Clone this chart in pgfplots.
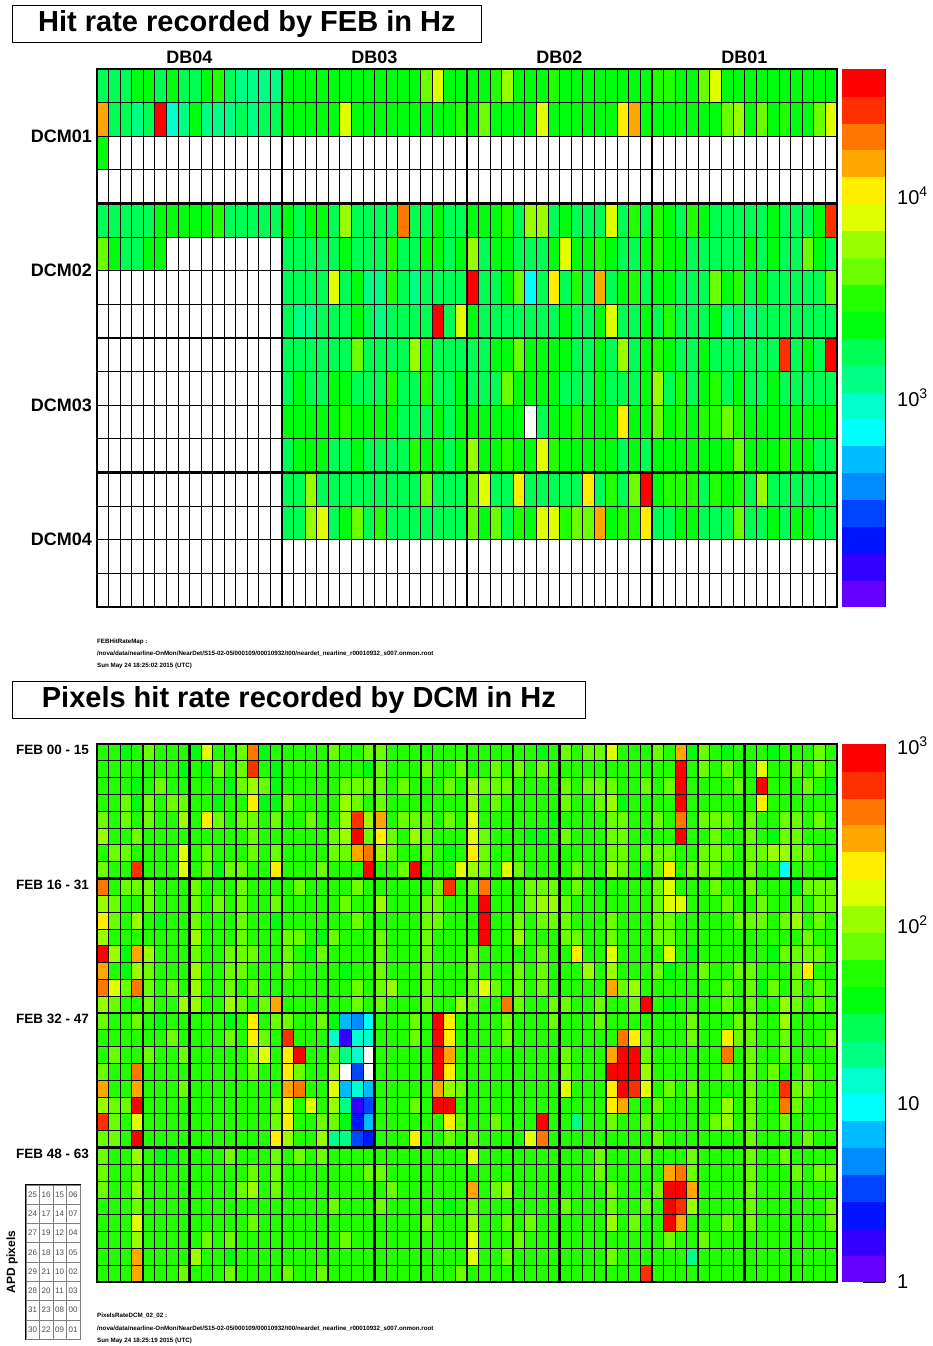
\documentclass[border=0pt]{standalone}
\usepackage{fontspec}
\setmainfont{Liberation Sans}
\usepackage{pgfplots}
\pgfplotsset{compat=1.18}
\usetikzlibrary{matrix}
\pgfplotsset{
  colormap={rootpal}{rgb255=(255,255,255) rgb255=(99,0,255) rgb255=(51,0,255) rgb255=(0,20,255) rgb255=(0,68,255) rgb255=(0,139,255) rgb255=(0,187,255) rgb255=(0,255,252) rgb255=(0,255,204) rgb255=(0,255,133) rgb255=(0,255,85) rgb255=(0,255,14) rgb255=(34,255,0) rgb255=(105,255,0) rgb255=(153,255,0) rgb255=(224,255,0) rgb255=(255,238,0) rgb255=(255,167,0) rgb255=(255,119,0) rgb255=(255,48,0) rgb255=(255,0,0)},
  heatmap/.style={
    scale only axis, anchor=center, clip=false, axis on top,
    colormap name=rootpal, colormap access=direct,
    xticklabels={}, yticklabels={},
    major tick length=0pt, minor tick length=0pt,
    grid=both,
    minor grid style={black, line width=0.8pt},
    major grid style={black, line width=2.4pt},
    axis line style={black, line width=2.4pt},
    y dir=reverse,
  },
  cbar/.style={
    scale only axis, anchor=center, width=43pt, height=538pt,
    colormap name=rootpal, colormap access=direct,
    xmin=0, xmax=1, axis x line=none, axis y line*=right,
    tick align=inside, major tick length=22pt, minor tick length=11pt,
    tick style={black, line width=0.8pt}, axis line style={black, line width=0.8pt},
    yticklabel style={font=\fontsize{20}{20}\selectfont, inner sep=0pt, xshift=12pt},
  },
}
\begin{document}
\begin{tikzpicture}
\fill[white] (0,0) rectangle (932pt,1346pt);
\path[use as bounding box] (0,0) rectangle (932pt,1346pt);

% ---------------- top chart (each cell value sits on its upper-left corner; last column/row unused) ----------------
\begin{axis}[heatmap, at={(467pt,1008pt)}, width=740pt, height=538pt,
  xmin=-0.5, xmax=63.5, ymin=-0.5, ymax=15.5,
  xtick={15.5,31.5,47.5}, ytick={3.5,7.5,11.5},
  minor xtick={0.5,1.5,...,62.5}, minor ytick={0.5,1.5,...,14.5}]
\addplot[surf, shader=flat corner, mesh/cols=65,
  point meta={max(0,min(20,floor((ln(max(\thisrowno{0},0.01))/2.302585-1.965)/0.1332)+1))}]
 table[header=false, row sep=\\, x expr={mod(\coordindex+0.5,65)-1}, y expr={floor((\coordindex+0.5)/65)-0.5}] {
1700\\1700\\1700\\2310\\2310\\1700\\2310\\1700\\1700\\2310\\3140\\1700\\1250\\1250\\1250\\1250\\
2310\\2310\\2310\\2310\\2310\\2310\\2310\\2310\\2310\\2310\\2310\\2310\\4270\\7880\\2310\\2310\\
2310\\2310\\3140\\5800\\2310\\2310\\2310\\3140\\2310\\2310\\2310\\2310\\2310\\2310\\2310\\2310\\
3140\\3140\\2310\\2310\\4270\\7880\\2310\\2310\\2310\\2310\\2310\\2310\\2310\\2310\\2310\\2310\\0\\
14500\\1700\\1700\\1250\\1700\\36500\\920\\1250\\2310\\1250\\1250\\1250\\1700\\1250\\1700\\1700\\
2310\\2310\\2310\\2310\\2310\\7880\\2310\\2310\\2310\\2310\\2310\\2310\\2310\\2310\\2310\\3140\\
2310\\4270\\2310\\2310\\2310\\2310\\7880\\2310\\2310\\2310\\2310\\2310\\2310\\10700\\14500\\2310\\
2310\\2310\\2310\\2310\\2310\\2310\\4270\\5800\\2310\\4270\\2310\\3140\\2310\\2310\\4270\\7880\\0\\
2310\\0\\0\\0\\0\\0\\0\\0\\0\\0\\0\\0\\0\\0\\0\\0\\
0\\0\\0\\0\\0\\0\\0\\0\\0\\0\\0\\0\\0\\0\\0\\0\\
0\\0\\0\\0\\0\\0\\0\\0\\0\\0\\0\\0\\0\\0\\0\\0\\
0\\0\\0\\0\\0\\0\\0\\0\\0\\0\\0\\0\\0\\0\\0\\0\\0\\
0\\0\\0\\0\\0\\0\\0\\0\\0\\0\\0\\0\\0\\0\\0\\0\\
0\\0\\0\\0\\0\\0\\0\\0\\0\\0\\0\\0\\0\\0\\0\\0\\
0\\0\\0\\0\\0\\0\\0\\0\\0\\0\\0\\0\\0\\0\\0\\0\\
0\\0\\0\\0\\0\\0\\0\\0\\0\\0\\0\\0\\0\\0\\0\\0\\0\\
1700\\1700\\1700\\1700\\1700\\2310\\2310\\2310\\2310\\2310\\3140\\1700\\1700\\1700\\1700\\1700\\
2310\\1700\\2310\\2310\\1700\\5800\\1700\\1700\\1700\\1700\\19800\\1700\\1700\\2310\\1700\\1700\\
2310\\2310\\2310\\3140\\1700\\5800\\5800\\1700\\2310\\1700\\1700\\1700\\7880\\1700\\3140\\1700\\
3140\\2310\\1700\\3140\\2310\\1700\\1700\\1700\\1700\\1700\\2310\\1700\\1700\\1700\\2310\\26900\\0\\
4270\\2310\\1700\\1700\\2310\\2310\\0\\0\\0\\0\\0\\0\\0\\0\\0\\0\\
1700\\1700\\1700\\1700\\1700\\2310\\1700\\1700\\1700\\3140\\1700\\1700\\2310\\2310\\1700\\2310\\
5800\\1700\\2310\\2310\\1700\\1700\\1700\\2310\\7880\\2310\\2310\\3140\\2310\\1700\\1700\\2310\\
3140\\2310\\2310\\1700\\1700\\1700\\1700\\1700\\2310\\1700\\2310\\1700\\1700\\4270\\2310\\1700\\0\\
0\\0\\0\\0\\0\\0\\0\\0\\0\\0\\0\\0\\0\\0\\0\\0\\
1700\\1700\\1700\\1700\\7880\\1700\\2310\\1250\\1250\\3140\\1700\\1250\\1700\\1700\\1700\\1700\\
36500\\1700\\1700\\2310\\4270\\677\\1700\\10700\\1700\\3140\\1700\\14500\\1700\\2310\\3140\\1700\\
2310\\2310\\1700\\1700\\1700\\4270\\2310\\3140\\1700\\2310\\1700\\1700\\1700\\1700\\1700\\4270\\0\\
0\\0\\0\\0\\0\\0\\0\\0\\0\\0\\0\\0\\0\\0\\0\\0\\
1700\\1250\\1250\\1700\\1700\\1700\\2310\\1700\\1250\\1700\\1700\\1700\\1700\\36500\\1700\\7880\\
2310\\1700\\1700\\1700\\1700\\1700\\1700\\1700\\2310\\1700\\1700\\2310\\7880\\1700\\1700\\2310\\
1700\\3140\\1700\\1700\\1700\\2310\\1250\\1700\\1250\\1700\\1700\\1700\\1700\\1700\\1700\\1700\\0\\
0\\0\\0\\0\\0\\0\\0\\0\\0\\0\\0\\0\\0\\0\\0\\0\\
1700\\1700\\1700\\1700\\1700\\1700\\4270\\1700\\1700\\1700\\1700\\5800\\3140\\1700\\1700\\1700\\
1700\\1700\\2310\\2310\\4270\\2310\\2310\\2310\\2310\\1700\\1700\\2310\\1700\\5800\\1700\\2310\\
3140\\2310\\1700\\1700\\2310\\1700\\1700\\1700\\1700\\1700\\1700\\26900\\1700\\2310\\1700\\36500\\0\\
0\\0\\0\\0\\0\\0\\0\\0\\0\\0\\0\\0\\0\\0\\0\\0\\
1700\\2310\\1700\\1700\\2310\\2310\\1700\\1700\\1700\\3140\\1700\\1700\\3140\\1700\\1700\\2310\\
1700\\1700\\1700\\4270\\2310\\2310\\2310\\2310\\1700\\1700\\1700\\2310\\1700\\1700\\1700\\2310\\
5800\\1700\\3140\\1700\\2310\\3140\\1700\\2310\\1700\\1700\\2310\\1700\\1700\\1700\\1700\\1700\\0\\
0\\0\\0\\0\\0\\0\\0\\0\\0\\0\\0\\0\\0\\0\\0\\0\\
2310\\2310\\2310\\2310\\2310\\3140\\2310\\2310\\2310\\2310\\1700\\1700\\1700\\2310\\1700\\2310\\
2310\\2310\\2310\\2310\\2310\\0\\1700\\2310\\2310\\3140\\2310\\2310\\2310\\10700\\2310\\2310\\
4270\\2310\\3140\\2310\\3140\\3140\\4270\\3140\\2310\\2310\\2310\\2310\\2310\\2310\\2310\\2310\\0\\
0\\0\\0\\0\\0\\0\\0\\0\\0\\0\\0\\0\\0\\0\\0\\0\\
1700\\2310\\2310\\2310\\1700\\1700\\2310\\1700\\1700\\1700\\1700\\3140\\2310\\2310\\1700\\2310\\
5800\\2310\\2310\\3140\\2310\\2310\\7880\\3140\\2310\\2310\\2310\\2310\\2310\\1700\\2310\\1700\\
2310\\2310\\2310\\2310\\2310\\2310\\2310\\4270\\2310\\2310\\2310\\3140\\2310\\2310\\1700\\1700\\0\\
0\\0\\0\\0\\0\\0\\0\\0\\0\\0\\0\\0\\0\\0\\0\\0\\
1700\\1700\\5800\\1700\\1700\\1700\\1700\\1700\\1700\\1700\\1700\\1700\\4270\\1700\\1700\\1700\\
4270\\7880\\1700\\1700\\10700\\1700\\1700\\1700\\1700\\1700\\10700\\1700\\3140\\1700\\4270\\36500\\
2310\\3140\\3140\\3140\\1700\\3140\\2310\\3140\\1700\\5800\\1700\\1700\\1700\\1700\\1700\\1700\\0\\
0\\0\\0\\0\\0\\0\\0\\0\\0\\0\\0\\0\\0\\0\\0\\0\\
1700\\1700\\5800\\7880\\1700\\2310\\4270\\1700\\3140\\1700\\1700\\1700\\1700\\1700\\1700\\1700\\
4270\\2310\\4270\\1700\\3140\\2310\\7880\\7880\\3140\\4270\\4270\\14500\\2310\\3140\\3140\\10700\\
1700\\1700\\2310\\2310\\1700\\1700\\1700\\4270\\1700\\1700\\2310\\1700\\2310\\2310\\1700\\1700\\0\\
0\\0\\0\\0\\0\\0\\0\\0\\0\\0\\0\\0\\0\\0\\0\\0\\
0\\0\\0\\0\\0\\0\\0\\0\\0\\0\\0\\0\\0\\0\\0\\0\\
0\\0\\0\\0\\0\\0\\0\\0\\0\\0\\0\\0\\0\\0\\0\\0\\
0\\0\\0\\0\\0\\0\\0\\0\\0\\0\\0\\0\\0\\0\\0\\0\\0\\
0\\0\\0\\0\\0\\0\\0\\0\\0\\0\\0\\0\\0\\0\\0\\0\\
0\\0\\0\\0\\0\\0\\0\\0\\0\\0\\0\\0\\0\\0\\0\\0\\
0\\0\\0\\0\\0\\0\\0\\0\\0\\0\\0\\0\\0\\0\\0\\0\\
0\\0\\0\\0\\0\\0\\0\\0\\0\\0\\0\\0\\0\\0\\0\\0\\0\\
0\\0\\0\\0\\0\\0\\0\\0\\0\\0\\0\\0\\0\\0\\0\\0\\
0\\0\\0\\0\\0\\0\\0\\0\\0\\0\\0\\0\\0\\0\\0\\0\\
0\\0\\0\\0\\0\\0\\0\\0\\0\\0\\0\\0\\0\\0\\0\\0\\
0\\0\\0\\0\\0\\0\\0\\0\\0\\0\\0\\0\\0\\0\\0\\0\\0\\
};
\node[anchor=base, font=\bfseries\fontsize{18}{18}\selectfont] at (axis cs:7.5,-0.5) [yshift=5pt] {DB04};
\node[anchor=base, font=\bfseries\fontsize{18}{18}\selectfont] at (axis cs:23.5,-0.5) [yshift=5pt] {DB03};
\node[anchor=base, font=\bfseries\fontsize{18}{18}\selectfont] at (axis cs:39.5,-0.5) [yshift=5pt] {DB02};
\node[anchor=base, font=\bfseries\fontsize{18}{18}\selectfont] at (axis cs:55.5,-0.5) [yshift=5pt] {DB01};
\node[anchor=east, inner sep=0pt, font=\bfseries\fontsize{18}{18}\selectfont] at (axis cs:-0.5,1.5) [xshift=-5pt] {DCM01};
\node[anchor=east, inner sep=0pt, font=\bfseries\fontsize{18}{18}\selectfont] at (axis cs:-0.5,5.5) [xshift=-5pt] {DCM02};
\node[anchor=east, inner sep=0pt, font=\bfseries\fontsize{18}{18}\selectfont] at (axis cs:-0.5,9.5) [xshift=-5pt] {DCM03};
\node[anchor=east, inner sep=0pt, font=\bfseries\fontsize{18}{18}\selectfont] at (axis cs:-0.5,13.5) [xshift=-5pt] {DCM04};
\end{axis}

\begin{axis}[cbar, at={(863.5pt,1008pt)}, ymin=1.965, ymax=4.629,
  ytick={3,4}, yticklabels={10\textsuperscript{3},10\textsuperscript{4}},
  minor ytick={2,2.30103,2.47712,2.60206,2.69897,2.77815,2.84510,2.90309,2.95424,3.30103,3.47712,3.60206,3.69897,3.77815,3.84510,3.90309,3.95424,4.30103,4.47712,4.60206}]
\addplot[surf, shader=flat corner, mesh/cols=2, point meta=explicit] table[row sep=\\, meta=c] {
x y c\\
0 1.9650 1\\ 1 1.9650 1\\ 0 2.0982 2\\ 1 2.0982 2\\ 0 2.2314 3\\ 1 2.2314 3\\
0 2.3646 4\\ 1 2.3646 4\\ 0 2.4978 5\\ 1 2.4978 5\\ 0 2.6310 6\\ 1 2.6310 6\\
0 2.7642 7\\ 1 2.7642 7\\ 0 2.8974 8\\ 1 2.8974 8\\ 0 3.0306 9\\ 1 3.0306 9\\
0 3.1638 10\\ 1 3.1638 10\\ 0 3.2970 11\\ 1 3.2970 11\\ 0 3.4302 12\\ 1 3.4302 12\\
0 3.5634 13\\ 1 3.5634 13\\ 0 3.6966 14\\ 1 3.6966 14\\ 0 3.8298 15\\ 1 3.8298 15\\
0 3.9630 16\\ 1 3.9630 16\\ 0 4.0962 17\\ 1 4.0962 17\\ 0 4.2294 18\\ 1 4.2294 18\\
0 4.3626 19\\ 1 4.3626 19\\ 0 4.4958 20\\ 1 4.4958 20\\ 0 4.6290 20\\ 1 4.6290 20\\
};
\end{axis}

% ---------------- bottom chart ----------------
\begin{axis}[heatmap, at={(467pt,333pt)}, width=740pt, height=538pt,
  xmin=-0.5, xmax=63.5, ymin=-0.5, ymax=31.5,
  xtick={3.5,7.5,...,59.5}, ytick={7.5,15.5,23.5},
  minor xtick={0.5,1.5,...,62.5}, minor ytick={0.5,1.5,...,30.5}]
\addplot[surf, shader=flat corner, mesh/cols=65,
  point meta={max(0,min(20,floor((ln(max(\thisrowno{0},0.01))/2.302585)/0.1505)+1))}]
 table[header=false, row sep=\\, x expr={mod(\coordindex+0.5,65)-1}, y expr={floor((\coordindex+0.5)/65)-0.5}] {
54\\54\\38\\54\\76\\54\\54\\54\\38\\152\\54\\54\\76\\430\\38\\54\\
54\\54\\54\\54\\76\\54\\54\\76\\76\\54\\54\\54\\54\\54\\54\\54\\
54\\54\\54\\54\\54\\54\\38\\54\\76\\54\\76\\76\\152\\54\\54\\54\\
76\\54\\304\\38\\76\\54\\38\\54\\54\\54\\38\\54\\54\\54\\76\\54\\0\\
54\\54\\54\\54\\54\\54\\54\\38\\54\\38\\76\\54\\76\\608\\54\\38\\
54\\54\\54\\54\\54\\54\\54\\38\\76\\54\\54\\54\\76\\54\\54\\76\\
54\\54\\76\\54\\76\\54\\76\\54\\54\\54\\54\\54\\54\\54\\54\\54\\
54\\54\\861\\54\\76\\54\\76\\54\\54\\152\\54\\54\\76\\54\\76\\54\\0\\
54\\54\\54\\38\\54\\76\\54\\54\\54\\54\\54\\38\\76\\108\\76\\38\\
54\\54\\54\\54\\54\\76\\76\\76\\76\\54\\76\\54\\54\\54\\76\\54\\
108\\76\\76\\76\\54\\54\\54\\54\\76\\54\\76\\76\\76\\54\\54\\76\\
54\\76\\861\\54\\54\\54\\54\\76\\54\\861\\54\\54\\54\\76\\54\\38\\0\\
54\\54\\76\\38\\76\\54\\76\\76\\54\\54\\38\\54\\54\\215\\38\\38\\
76\\54\\54\\54\\54\\108\\76\\54\\76\\54\\54\\54\\54\\54\\54\\54\\
108\\54\\76\\54\\54\\54\\54\\54\\76\\54\\54\\76\\108\\38\\54\\54\\
54\\54\\861\\54\\54\\54\\54\\54\\54\\215\\54\\54\\54\\54\\54\\54\\0\\
76\\54\\76\\54\\76\\54\\54\\108\\54\\215\\76\\54\\76\\76\\54\\76\\
54\\54\\76\\54\\54\\108\\608\\108\\304\\54\\76\\76\\76\\54\\76\\54\\
152\\54\\54\\54\\54\\54\\54\\38\\54\\54\\54\\54\\76\\76\\54\\54\\
76\\54\\430\\54\\76\\76\\76\\54\\76\\54\\54\\76\\76\\54\\76\\54\\0\\
108\\54\\54\\76\\54\\54\\54\\54\\54\\54\\54\\54\\54\\76\\54\\54\\
54\\54\\54\\54\\76\\108\\861\\76\\215\\76\\54\\108\\76\\54\\54\\54\\
152\\76\\54\\54\\54\\38\\38\\54\\76\\54\\54\\54\\76\\76\\54\\54\\
54\\54\\861\\54\\54\\76\\54\\54\\76\\54\\38\\76\\76\\54\\54\\54\\0\\
54\\76\\76\\54\\54\\54\\54\\152\\54\\76\\54\\54\\54\\76\\54\\76\\
54\\54\\54\\54\\76\\76\\304\\430\\108\\76\\54\\54\\76\\54\\38\\54\\
215\\76\\54\\54\\54\\54\\54\\54\\54\\54\\54\\54\\76\\76\\54\\76\\
76\\76\\54\\54\\76\\76\\76\\54\\76\\76\\108\\108\\76\\76\\54\\54\\0\\
76\\54\\54\\608\\54\\54\\54\\152\\54\\76\\38\\76\\76\\54\\54\\215\\
54\\54\\54\\76\\54\\54\\54\\861\\54\\54\\76\\861\\54\\54\\54\\152\\
108\\76\\54\\152\\76\\54\\54\\54\\54\\76\\54\\54\\108\\76\\54\\38\\
76\\215\\54\\76\\76\\76\\54\\54\\76\\54\\54\\9.4\\54\\54\\54\\38\\0\\
430\\54\\76\\76\\76\\54\\54\\54\\76\\54\\54\\54\\76\\54\\54\\54\\
54\\76\\54\\54\\54\\54\\76\\54\\54\\54\\54\\54\\54\\76\\608\\54\\
76\\430\\54\\54\\54\\76\\76\\76\\54\\76\\54\\38\\54\\54\\54\\54\\
76\\152\\54\\54\\54\\76\\54\\54\\76\\54\\54\\54\\38\\76\\76\\76\\0\\
108\\76\\54\\54\\76\\54\\54\\54\\76\\54\\76\\54\\76\\54\\54\\76\\
54\\54\\54\\54\\54\\76\\54\\54\\108\\54\\54\\54\\76\\76\\54\\54\\
54\\861\\54\\54\\54\\76\\108\\108\\76\\54\\54\\54\\54\\54\\54\\54\\
76\\152\\152\\54\\54\\54\\76\\54\\54\\76\\54\\54\\76\\54\\76\\76\\0\\
215\\76\\54\\108\\54\\38\\54\\54\\76\\54\\54\\54\\76\\54\\54\\38\\
54\\54\\54\\54\\54\\54\\76\\54\\54\\54\\54\\54\\76\\76\\54\\54\\
54\\861\\54\\54\\76\\54\\76\\76\\76\\54\\54\\54\\76\\54\\54\\54\\
76\\76\\54\\54\\54\\54\\54\\76\\76\\76\\54\\76\\108\\54\\76\\54\\0\\
108\\54\\54\\54\\54\\54\\54\\54\\108\\54\\54\\54\\76\\54\\54\\54\\
76\\76\\54\\38\\76\\54\\54\\54\\76\\54\\54\\54\\76\\54\\54\\54\\
54\\861\\54\\54\\108\\54\\54\\54\\76\\76\\54\\54\\76\\54\\54\\54\\
76\\76\\54\\54\\54\\54\\54\\54\\54\\54\\54\\54\\54\\76\\54\\54\\0\\
861\\108\\38\\304\\108\\54\\54\\54\\76\\54\\54\\76\\76\\76\\54\\54\\
76\\54\\38\\76\\54\\54\\54\\54\\76\\54\\54\\54\\76\\54\\54\\54\\
76\\54\\54\\54\\54\\54\\76\\54\\54\\215\\54\\54\\152\\54\\54\\54\\
54\\152\\54\\38\\54\\54\\54\\54\\54\\54\\38\\76\\76\\76\\76\\54\\0\\
304\\54\\38\\108\\76\\54\\54\\54\\108\\54\\54\\76\\76\\54\\54\\54\\
76\\54\\54\\54\\54\\38\\54\\54\\76\\54\\54\\54\\76\\54\\54\\54\\
76\\54\\54\\54\\76\\54\\76\\54\\54\\54\\108\\54\\108\\54\\54\\54\\
76\\38\\54\\54\\76\\54\\54\\76\\76\\54\\54\\54\\76\\215\\54\\54\\0\\
430\\152\\76\\430\\76\\54\\76\\54\\108\\54\\54\\76\\54\\76\\54\\54\\
54\\54\\54\\54\\54\\54\\76\\54\\76\\108\\54\\54\\76\\54\\54\\54\\
76\\152\\76\\54\\76\\54\\76\\54\\54\\54\\54\\54\\304\\76\\108\\54\\
54\\54\\54\\54\\54\\54\\76\\54\\76\\38\\76\\54\\76\\54\\76\\54\\0\\
108\\76\\54\\54\\76\\54\\54\\108\\108\\54\\54\\108\\76\\54\\76\\304\\
54\\54\\54\\54\\54\\54\\76\\54\\76\\54\\54\\54\\76\\54\\54\\108\\
76\\54\\54\\430\\76\\54\\54\\76\\76\\54\\54\\76\\54\\54\\76\\861\\
54\\38\\54\\54\\54\\54\\76\\54\\76\\54\\54\\108\\76\\54\\76\\54\\0\\
76\\54\\54\\76\\54\\38\\54\\54\\54\\54\\54\\38\\54\\215\\54\\76\\
76\\54\\54\\76\\38\\6.7\\4.8\\9.4\\54\\54\\54\\76\\54\\861\\215\\54\\
54\\54\\54\\76\\54\\54\\54\\76\\54\\54\\54\\76\\54\\54\\54\\54\\
54\\54\\54\\76\\54\\54\\54\\76\\76\\54\\54\\108\\54\\54\\54\\54\\0\\
54\\54\\54\\54\\54\\54\\76\\54\\54\\54\\54\\76\\54\\215\\76\\54\\
608\\54\\54\\54\\13.5\\1.7\\13.5\\13.5\\54\\54\\54\\76\\54\\861\\215\\54\\
54\\54\\54\\76\\54\\54\\54\\54\\54\\54\\54\\54\\54\\430\\215\\76\\
54\\54\\54\\76\\54\\54\\215\\76\\76\\54\\54\\76\\54\\54\\54\\76\\0\\
54\\76\\54\\54\\76\\54\\54\\76\\54\\54\\54\\54\\54\\108\\152\\54\\
215\\861\\54\\54\\76\\18.8\\13.5\\0\\54\\54\\54\\54\\54\\861\\304\\54\\
54\\54\\54\\54\\54\\54\\54\\54\\76\\54\\54\\54\\304\\861\\861\\76\\
54\\54\\54\\54\\54\\54\\430\\54\\76\\54\\54\\76\\54\\54\\54\\54\\0\\
76\\54\\54\\430\\54\\54\\54\\54\\54\\54\\54\\54\\54\\76\\54\\54\\
215\\76\\54\\54\\108\\0\\3.4\\0\\54\\54\\54\\54\\54\\861\\215\\54\\
54\\54\\54\\54\\54\\54\\54\\54\\76\\54\\54\\54\\861\\861\\861\\108\\
54\\54\\54\\54\\54\\54\\76\\54\\76\\54\\76\\54\\54\\76\\54\\54\\0\\
304\\54\\54\\304\\54\\54\\54\\76\\54\\54\\54\\54\\54\\54\\54\\54\\
304\\430\\54\\54\\152\\6.7\\13.5\\6.7\\54\\54\\54\\54\\54\\304\\108\\76\\
54\\54\\54\\54\\54\\54\\54\\54\\152\\54\\54\\54\\215\\861\\608\\152\\
54\\76\\54\\76\\54\\54\\54\\54\\76\\54\\54\\608\\76\\76\\54\\54\\0\\
108\\76\\76\\861\\54\\54\\54\\54\\54\\54\\54\\54\\54\\54\\54\\76\\
152\\54\\152\\54\\108\\18.8\\1.7\\3.4\\54\\54\\54\\76\\54\\861\\861\\54\\
54\\54\\54\\54\\54\\54\\54\\54\\54\\54\\54\\54\\215\\304\\54\\54\\
76\\54\\54\\54\\54\\54\\108\\54\\76\\54\\54\\430\\76\\54\\54\\54\\0\\
608\\76\\54\\152\\54\\54\\54\\54\\54\\54\\54\\54\\54\\54\\54\\76\\
215\\54\\54\\76\\76\\38\\2.4\\6.7\\54\\54\\54\\54\\54\\54\\215\\76\\
54\\54\\76\\54\\54\\54\\861\\54\\54\\18.8\\54\\54\\76\\54\\54\\76\\
54\\54\\54\\54\\54\\76\\108\\54\\76\\54\\54\\76\\54\\54\\54\\54\\0\\
76\\76\\54\\861\\54\\54\\54\\54\\54\\54\\54\\54\\54\\54\\54\\215\\
108\\54\\54\\108\\18.8\\18.8\\3.4\\2.4\\54\\54\\54\\215\\54\\54\\76\\54\\
76\\54\\54\\54\\54\\152\\430\\54\\54\\54\\54\\54\\54\\54\\54\\54\\
76\\54\\54\\54\\54\\54\\54\\54\\76\\54\\54\\54\\54\\76\\54\\54\\0\\
76\\54\\54\\108\\54\\38\\38\\54\\54\\54\\54\\76\\54\\54\\54\\76\\
54\\76\\54\\76\\54\\54\\54\\54\\54\\54\\54\\54\\54\\54\\54\\54\\
152\\54\\54\\54\\54\\54\\54\\54\\54\\54\\54\\76\\54\\54\\54\\76\\
54\\54\\54\\76\\54\\54\\54\\54\\76\\54\\54\\76\\54\\54\\54\\54\\0\\
76\\54\\54\\76\\54\\54\\54\\54\\54\\54\\54\\54\\54\\76\\54\\76\\
54\\54\\54\\54\\54\\54\\54\\76\\76\\54\\54\\54\\54\\54\\54\\54\\
54\\54\\54\\54\\54\\54\\54\\54\\54\\54\\54\\76\\54\\54\\54\\54\\
54\\304\\430\\76\\54\\54\\54\\54\\76\\54\\54\\54\\76\\54\\76\\76\\0\\
76\\54\\54\\108\\54\\54\\54\\54\\54\\54\\54\\54\\76\\108\\54\\76\\
54\\54\\54\\54\\54\\54\\54\\54\\54\\76\\54\\54\\54\\54\\54\\54\\
304\\54\\76\\108\\54\\54\\54\\54\\54\\54\\54\\54\\76\\54\\54\\54\\
76\\861\\861\\304\\54\\54\\54\\54\\76\\54\\54\\54\\54\\54\\54\\54\\0\\
54\\54\\54\\76\\54\\54\\54\\54\\54\\54\\54\\54\\54\\54\\54\\54\\
54\\54\\54\\54\\76\\54\\54\\54\\76\\54\\54\\54\\54\\54\\38\\54\\
76\\54\\54\\54\\54\\54\\54\\54\\76\\54\\54\\54\\76\\54\\54\\76\\
54\\861\\608\\108\\54\\54\\54\\54\\76\\54\\54\\54\\54\\54\\54\\76\\0\\
54\\54\\54\\152\\54\\54\\54\\54\\54\\54\\54\\54\\54\\76\\54\\54\\
54\\54\\54\\54\\54\\54\\54\\54\\54\\54\\54\\54\\76\\54\\54\\54\\
108\\54\\54\\76\\54\\76\\54\\54\\54\\54\\54\\54\\108\\54\\76\\54\\
54\\861\\304\\54\\54\\54\\76\\54\\76\\54\\54\\54\\54\\54\\54\\76\\0\\
54\\54\\54\\108\\54\\54\\54\\54\\54\\76\\54\\76\\54\\54\\54\\54\\
54\\54\\54\\54\\54\\76\\54\\54\\54\\54\\54\\54\\54\\54\\54\\54\\
152\\54\\54\\54\\76\\54\\54\\54\\54\\54\\54\\54\\54\\54\\54\\54\\
54\\76\\54\\54\\76\\54\\54\\54\\54\\54\\54\\54\\54\\54\\54\\54\\0\\
54\\54\\54\\304\\54\\54\\54\\54\\108\\54\\54\\38\\54\\54\\54\\54\\
54\\54\\54\\54\\54\\54\\54\\54\\54\\54\\54\\54\\54\\54\\54\\54\\
152\\54\\54\\76\\54\\54\\54\\54\\54\\54\\54\\54\\76\\54\\54\\54\\
54\\54\\54\\18.8\\54\\54\\54\\54\\54\\54\\54\\54\\54\\54\\54\\54\\0\\
54\\54\\54\\304\\54\\54\\54\\76\\54\\54\\54\\76\\54\\54\\54\\54\\
76\\54\\54\\76\\54\\54\\54\\54\\54\\54\\54\\54\\54\\54\\54\\76\\
54\\54\\54\\54\\54\\54\\54\\54\\54\\54\\54\\54\\54\\54\\54\\608\\
54\\54\\54\\54\\54\\54\\54\\54\\54\\54\\54\\54\\54\\54\\54\\54\\0\\
0\\0\\0\\0\\0\\0\\0\\0\\0\\0\\0\\0\\0\\0\\0\\0\\
0\\0\\0\\0\\0\\0\\0\\0\\0\\0\\0\\0\\0\\0\\0\\0\\
0\\0\\0\\0\\0\\0\\0\\0\\0\\0\\0\\0\\0\\0\\0\\0\\
0\\0\\0\\0\\0\\0\\0\\0\\0\\0\\0\\0\\0\\0\\0\\0\\0\\
};
\node[anchor=north east, inner sep=0pt, font=\bfseries\fontsize{13.5}{13.5}\selectfont] at (axis cs:-0.5,-0.5) [xshift=-8pt, yshift=-1pt] {FEB 00 - 15};
\node[anchor=north east, inner sep=0pt, font=\bfseries\fontsize{13.5}{13.5}\selectfont] at (axis cs:-0.5,7.5) [xshift=-8pt, yshift=-1pt] {FEB 16 - 31};
\node[anchor=north east, inner sep=0pt, font=\bfseries\fontsize{13.5}{13.5}\selectfont] at (axis cs:-0.5,15.5) [xshift=-8pt, yshift=-1pt] {FEB 32 - 47};
\node[anchor=north east, inner sep=0pt, font=\bfseries\fontsize{13.5}{13.5}\selectfont] at (axis cs:-0.5,23.5) [xshift=-8pt, yshift=-1pt] {FEB 48 - 63};
\end{axis}

\begin{axis}[cbar, at={(863.5pt,333pt)}, ymin=0, ymax=3.01,
  ytick={0,1,2,3}, yticklabels={1,10,10\textsuperscript{2},10\textsuperscript{3}},
  minor ytick={0.30103,0.47712,0.60206,0.69897,0.77815,0.84510,0.90309,0.95424,1.30103,1.47712,1.60206,1.69897,1.77815,1.84510,1.90309,1.95424,2.30103,2.47712,2.60206,2.69897,2.77815,2.84510,2.90309,2.95424}]
\addplot[surf, shader=flat corner, mesh/cols=2, point meta=explicit] table[row sep=\\, meta=c] {
x y c\\
0 0.0000 1\\ 1 0.0000 1\\ 0 0.1505 2\\ 1 0.1505 2\\ 0 0.3010 3\\ 1 0.3010 3\\
0 0.4515 4\\ 1 0.4515 4\\ 0 0.6020 5\\ 1 0.6020 5\\ 0 0.7525 6\\ 1 0.7525 6\\
0 0.9030 7\\ 1 0.9030 7\\ 0 1.0535 8\\ 1 1.0535 8\\ 0 1.2040 9\\ 1 1.2040 9\\
0 1.3545 10\\ 1 1.3545 10\\ 0 1.5050 11\\ 1 1.5050 11\\ 0 1.6555 12\\ 1 1.6555 12\\
0 1.8060 13\\ 1 1.8060 13\\ 0 1.9565 14\\ 1 1.9565 14\\ 0 2.1070 15\\ 1 2.1070 15\\
0 2.2575 16\\ 1 2.2575 16\\ 0 2.4080 17\\ 1 2.4080 17\\ 0 2.5585 18\\ 1 2.5585 18\\
0 2.7090 19\\ 1 2.7090 19\\ 0 2.8595 20\\ 1 2.8595 20\\ 0 3.0100 20\\ 1 3.0100 20\\
};
\end{axis}

% ---------------- titles and notes ----------------
\node[draw, line width=0.8pt, anchor=north west, minimum width=469pt, minimum height=37pt, inner sep=0pt, font=\bfseries\fontsize{29}{29}\selectfont] at (12pt,1341pt) {Hit rate recorded by FEB in Hz};
\node[draw, line width=0.8pt, anchor=north west, minimum width=573pt, minimum height=37pt, inner sep=0pt, font=\bfseries\fontsize{29}{29}\selectfont] at (12pt,665pt) {Pixels hit rate recorded by DCM in Hz};

\begin{scope}[every node/.style={anchor=west, inner sep=0pt, font=\bfseries\fontsize{6.2}{7}\selectfont}]
\node at (97pt,704pt) {FEBHitRateMap :};
\node at (97pt,692pt) {/nova/data/nearline-OnMon/NearDet/S15-02-05/000109/00010932/t00/neardet\_nearline\_r00010932\_s007.onmon.root};
\node at (97pt,680pt) {Sun May 24 18:25:02 2015 (UTC)};
\node at (97pt,30pt) {PixelsRateDCM\_02\_02 :};
\node at (97pt,17pt) {/nova/data/nearline-OnMon/NearDet/S15-02-05/000109/00010932/t00/neardet\_nearline\_r00010932\_s007.onmon.root};
\node at (97pt,5pt) {Sun May 24 18:25:19 2015 (UTC)};
\end{scope}

\node[rotate=90, font=\bfseries\fontsize{12}{12}\selectfont] at (12pt,84pt) {APD pixels};
\matrix[matrix of nodes, anchor=north west, draw=black, line width=1.2pt, inner sep=0pt,
  column sep=-0.5pt, row sep=-0.5pt,
  nodes={draw=gray, line width=0.5pt, minimum width=13.5pt, minimum height=19.25pt, inner sep=0pt,
    text=gray!60!black, font=\fontsize{8}{8}\selectfont}] at (25pt,162pt) {
25 & 16 & 15 & 06\\
24 & 17 & 14 & 07\\
27 & 19 & 12 & 04\\
26 & 18 & 13 & 05\\
29 & 21 & 10 & 02\\
28 & 20 & 11 & 03\\
31 & 23 & 08 & 00\\
30 & 22 & 09 & 01\\
};
\end{tikzpicture}
\end{document}
